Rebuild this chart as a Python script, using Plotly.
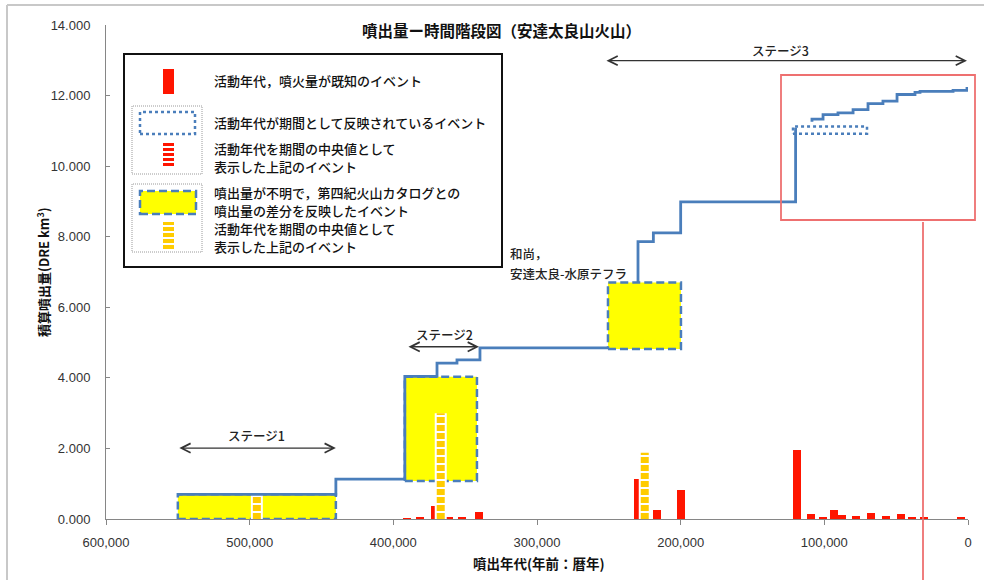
import plotly.graph_objects as go

# ---------------- data ----------------
# cumulative DRE volume step line (age in years BP, cumulative km3)
line1_age = [550000, 440000, 392000, 369600, 355700, 339700, 250600]
line1_cum = [0.70, 1.13, 4.04, 4.42, 4.51, 4.85, 4.85]
line2_age = [229700, 229700, 219000, 200000, 120000]
line2_cum = [6.70, 7.86, 8.11, 8.99, 11.09]
line3_age = [108600, 108600, 100900, 90500, 80000, 69600, 59200, 49400, 36900, 33400, 10400, 700, 0]
line3_cum = [11.26, 11.33, 11.46, 11.51, 11.60, 11.77, 11.84, 12.03, 12.09, 12.12, 12.15, 12.20, 12.20]

# events with unknown volume (difference to the Quaternary volcano catalogue)
box_old = [550000, 392000, 250600]
box_young = [440000, 341800, 199800]
box_low = [0.00, 1.08, 4.82]
box_high = [0.70, 4.03, 6.70]
box_mid_age = [495000, 367000, 225000]
box_mid_vol = [0.70, 3.00, 1.88]

# event whose age is known only as a period
period_old = 121800
period_young = 70300
period_low = 10.92
period_high = 11.12

# events with known age and volume
bar_age = [390500, 381400, 371300, 361200, 352200, 340400, 229700, 216500, 199800,
           119000, 109300, 100900, 93300, 87700, 77900, 67500, 57100, 46600, 39000, 30600, 4900]
bar_vol = [0.02, 0.05, 0.37, 0.05, 0.05, 0.20, 1.13, 0.26, 0.82,
           1.96, 0.14, 0.06, 0.26, 0.10, 0.08, 0.17, 0.08, 0.15, 0.05, 0.03, 0.04]

# stages
stage_names = ["ステージ1", "ステージ2", "ステージ3"]
stage_old = [550000, 390500, 252700]
stage_young = [440000, 340400, 700]
stage_level = [2.01, 4.88, 12.99]
stage_label_age = [494900, 364700, 130200]
stage_label_level = [2.38, 5.22, 13.28]

x_ticks = [600000, 500000, 400000, 300000, 200000, 100000, 0]
y_ticks = [0, 2, 4, 6, 8, 10, 12, 14]

# ---------------- styling ----------------
BLUE = "#4A7EBB"
RED = "#FF1500"
YELLOW = "#FFFF00"
GOLD = "#FFCC00"
JP = "Noto Sans CJK JP"
NUM = "Liberation Sans, Arial"
AX = "#868686"

W, H = 984, 580
L, R, T, B = 106, 968, 25, 519


def px(x):
    return (x - L) / (R - L)


def py(y):
    return (B - y) / (B - T)


fig = go.Figure()

# yellow boxes
for o, yg, lo, hi in zip(box_old, box_young, box_low, box_high):
    fig.add_trace(go.Scatter(
        x=[o, yg, yg, o, o], y=[lo, lo, hi, hi, lo], mode="lines",
        fill="toself", fillcolor=YELLOW,
        line=dict(color=BLUE, width=2.5, dash="8px,4px"),
        hoverinfo="skip", showlegend=False))

# median bars for those boxes (white outline + gold stripes)
for a, v in zip(box_mid_age, box_mid_vol):
    fig.add_trace(go.Scatter(x=[a, a], y=[0, v], mode="lines",
                             line=dict(color="white", width=12),
                             hoverinfo="skip", showlegend=False))
    fig.add_trace(go.Scatter(x=[a, a], y=[0, v], mode="lines",
                             line=dict(color=GOLD, width=8, dash="6px,2px"),
                             hoverinfo="skip", showlegend=False))

# red bars
fig.add_trace(go.Bar(x=bar_age, y=bar_vol, width=5500, marker=dict(color=RED, line=dict(width=0)),
                     hoverinfo="skip", showlegend=False))

# dotted period box
fig.add_trace(go.Scatter(
    x=[period_old, period_young, period_young, period_old, period_old],
    y=[period_low, period_low, period_high, period_high, period_low],
    mode="lines", line=dict(color=BLUE, width=2.5, dash="dot"),
    hoverinfo="skip", showlegend=False))

# cumulative step line
for xa, ya in [(line1_age, line1_cum), (line2_age, line2_cum), (line3_age, line3_cum)]:
    fig.add_trace(go.Scatter(x=xa, y=ya, mode="lines", line=dict(color=BLUE, width=2.8, shape="hv"),
                             hoverinfo="skip", showlegend=False))

# stage arrows and labels
for name, o, yg, lv, la, ll in zip(stage_names, stage_old, stage_young, stage_level,
                                   stage_label_age, stage_label_level):
    fig.add_annotation(x=yg, y=lv, ax=o, ay=lv, xref="x", yref="y", axref="x", ayref="y",
                       text="", showarrow=True, arrowhead=5, startarrowhead=5,
                       arrowside="end+start", arrowsize=1.3, startarrowsize=1.3,
                       arrowwidth=1.4, arrowcolor="#333333")
    fig.add_annotation(x=la, y=ll, xref="x", yref="y", text=name, showarrow=False,
                       font=dict(family=JP, size=12.5, color="#222", weight=500))

fig.add_annotation(x=px(508), y=py(253), xref="paper", yref="paper", xanchor="left", yanchor="middle",
                   text="和尚，", showarrow=False,
                   font=dict(family=JP, size=12.5, color="#222", weight=500))
fig.add_annotation(x=px(508), y=py(273), xref="paper", yref="paper", xanchor="left", yanchor="middle",
                   text="安達太良-水原テフラ", showarrow=False,
                   font=dict(family=JP, size=12.5, color="#222", weight=500))

shapes = []
# outer chart frame (top and left edges)
shapes.append(dict(type="line", xref="paper", yref="paper", x0=px(7), x1=px(990), y0=py(5), y1=py(5),
                   line=dict(color="#C8C8C8", width=2)))
shapes.append(dict(type="line", xref="paper", yref="paper", x0=px(7), x1=px(7), y0=py(5), y1=py(590),
                   line=dict(color="#C8C8C8", width=2)))
# red highlight rectangle and line
shapes.append(dict(type="rect", xref="paper", yref="paper", x0=px(781), x1=px(975), y0=py(220), y1=py(75),
                   line=dict(color="#EE7070", width=1.8)))
shapes.append(dict(type="line", xref="paper", yref="paper", x0=px(923), x1=px(923), y0=py(222), y1=py(585),
                   line=dict(color="#EE7070", width=1.8)))
# legend frame
shapes.append(dict(type="rect", xref="paper", yref="paper", x0=px(124), x1=px(502), y0=py(267), y1=py(54),
                   line=dict(color="#111", width=2), fillcolor="white", layer="above"))
# legend samples
shapes.append(dict(type="rect", xref="paper", yref="paper", x0=px(163), x1=px(174), y0=py(94), y1=py(69),
                   line=dict(width=0), fillcolor=RED))
for top, bot in [(106, 174), (184, 252)]:
    shapes.append(dict(type="rect", xref="paper", yref="paper", x0=px(132), x1=px(202), y0=py(bot), y1=py(top),
                       line=dict(color="#9A9A9A", width=1, dash="1px,1px")))
shapes.append(dict(type="rect", xref="paper", yref="paper", x0=px(140), x1=px(195), y0=py(134), y1=py(112),
                   line=dict(color=BLUE, width=2.5, dash="dot")))
shapes.append(dict(type="line", xref="paper", yref="paper", x0=px(168.5), x1=px(168.5), y0=py(166), y1=py(142),
                   line=dict(color=RED, width=11, dash="3px,2px")))
shapes.append(dict(type="rect", xref="paper", yref="paper", x0=px(140), x1=px(196), y0=py(214), y1=py(191),
                   line=dict(color=BLUE, width=2.5, dash="8px,4px"), fillcolor=YELLOW))
shapes.append(dict(type="line", xref="paper", yref="paper", x0=px(168.5), x1=px(168.5), y0=py(249), y1=py(222),
                   line=dict(color=GOLD, width=11, dash="4px,2px")))

legend_texts = [
    (81, "活動年代，噴火量が既知のイベント"),
    (122, "活動年代が期間として反映されているイベント"),
    (148, "活動年代を期間の中央値として"),
    (166, "表示した上記のイベント"),
    (192, "噴出量が不明で，第四紀火山カタログとの"),
    (210, "噴出量の差分を反映したイベント"),
    (228.5, "活動年代を期間の中央値として"),
    (246.5, "表示した上記のイベント"),
]
for yy, tx in legend_texts:
    fig.add_annotation(x=px(212), y=py(yy), xref="paper", yref="paper", xanchor="left", yanchor="middle",
                       text=tx, align="left", showarrow=False,
                       font=dict(family=JP, size=13, color="#111", weight=500))

# title and axis titles
fig.add_annotation(x=px(501), y=py(30), xref="paper", yref="paper", xanchor="center", yanchor="middle",
                   text="<b>噴出量ー時間階段図（安達太良山火山）</b>", showarrow=False,
                   font=dict(family=JP, size=15.5, color="#111"))
fig.add_annotation(x=px(43), y=py(272), xref="paper", yref="paper", xanchor="center", yanchor="middle",
                   text="<b>積算噴出量(DRE km<sup>3</sup>)</b>", textangle=-90, showarrow=False,
                   font=dict(family=JP, size=13, color="#111"))
fig.add_annotation(x=px(539), y=py(563), xref="paper", yref="paper", xanchor="center", yanchor="middle",
                   text="<b>噴出年代(年前：暦年)</b>", showarrow=False,
                   font=dict(family=JP, size=13.5, color="#111"))

fig.update_layout(
    width=W, height=H,
    margin=dict(l=L, r=W - R, t=T, b=H - B, pad=0),
    paper_bgcolor="white", plot_bgcolor="white",
    shapes=shapes, bargap=0, showlegend=False,
    xaxis=dict(range=[600000, 0], tickvals=x_ticks, tickformat=",d", showgrid=False, zeroline=False,
               showline=True, linecolor=AX, linewidth=1, ticks="outside", ticklen=5, tickcolor=AX,
               tickfont=dict(family=NUM, size=13, color="#333"), ticklabelstandoff=6),
    yaxis=dict(range=[0, 14], tickvals=y_ticks, tickformat=".3f", showgrid=False, zeroline=False,
               showline=True, linecolor=AX, linewidth=1, ticks="inside", ticklen=4, tickcolor=AX,
               tickfont=dict(family=NUM, size=13, color="#333"), ticklabelstandoff=12),
)

fig.write_html("out.html", config={"displayModeBar": False})

# remove default page margin so the figure sits at the window origin
with open("out.html", "r", encoding="utf-8") as f:
    html = f.read()
html = html.replace("<head>", "<head><style>html,body{margin:0;padding:0;overflow:hidden;}</style>", 1)
with open("out.html", "w", encoding="utf-8") as f:
    f.write(html)
